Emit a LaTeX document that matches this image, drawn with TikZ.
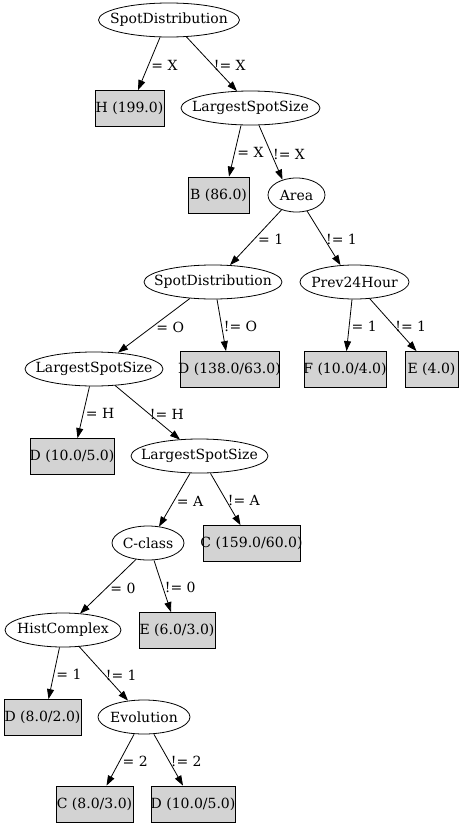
\documentclass[tikz,border=0pt]{standalone}
\usepackage{fontspec}
\setmainfont{DejaVu Serif}
\usetikzlibrary{arrows.meta,shapes.geometric}
\definecolor{leafgray}{RGB}{211,211,211}
\tikzset{
  mysplit/.style = {ellipse, draw, line width=0.8pt, inner sep=0pt, minimum height=34pt,
    execute at begin node={\hbox to 0pt\bgroup\hss}, execute at end node={\hss\egroup}},
  myleaf/.style = {rectangle, draw, fill=leafgray, line width=0.8pt, inner sep=0pt, minimum height=36pt,
    execute at begin node={\hbox to 0pt\bgroup\hss}, execute at end node={\hss\egroup}},
  myarrow/.style = {-{Triangle[length=10pt, width=7pt]}, line width=0.8pt},
  mylabel/.style = {anchor=west, inner sep=2pt, yshift=-1.5pt},
}
\begin{document}
\begin{tikzpicture}[x=1pt, y=-1pt, every node/.style={font=\fontsize{14}{16}\selectfont}]
\useasboundingbox (0,0) rectangle (464,827);
% splits
\node[mysplit, minimum width=141pt] (root) at (169,20) {SpotDistribution};
\node[mysplit, minimum width=139pt] (lss1) at (250.5,108) {LargestSpotSize};
\node[mysplit, minimum width=57pt] (area) at (296.5,195) {Area};
\node[mysplit, minimum width=138pt] (sd2) at (213,282) {SpotDistribution};
\node[mysplit, minimum width=109pt] (prev) at (354.5,282) {Prev24Hour};
\node[mysplit, minimum width=138pt] (lss2) at (94,369) {LargestSpotSize};
\node[mysplit, minimum width=137pt] (lss3) at (199.5,456) {LargestSpotSize};
\node[mysplit, minimum width=72pt] (cclass) at (148,543) {C-class};
\node[mysplit, minimum width=116pt] (hist) at (63,630) {HistComplex};
\node[mysplit, minimum width=92pt] (evol) at (144,717) {Evolution};
% leaves
\node[myleaf, minimum width=69pt] (h1) at (129.5,108.5) {H (199.0)};
\node[myleaf, minimum width=61pt] (b1) at (218.5,195) {B (86.0)};
\node[myleaf, minimum width=99pt] (d1) at (229.5,369.5) {D (138.0/63.0)};
\node[myleaf, minimum width=82pt] (f1) at (345,369.5) {F (10.0/4.0)};
\node[myleaf, minimum width=53pt] (e1) at (431.5,369.5) {E (4.0)};
\node[myleaf, minimum width=84pt] (d2) at (72,456.5) {D (10.0/5.0)};
\node[myleaf, minimum width=97pt] (c1) at (251.5,543.5) {C (159.0/60.0)};
\node[myleaf, minimum width=76pt] (e2) at (177,630.5) {E (6.0/3.0)};
\node[myleaf, minimum width=77pt] (d3) at (42.5,717.5) {D (8.0/2.0)};
\node[myleaf, minimum width=77pt] (c2) at (94.5,804) {C (8.0/3.0)};
\node[myleaf, minimum width=84pt] (d4) at (193,804) {D (10.0/5.0)};
% edges
\draw[myarrow] ([xshift=-9pt]root.south) -- node[mylabel] {= X} ([xshift=8.5pt]h1.north);
\draw[myarrow] ([xshift=17pt,yshift=1pt]root.south) -- node[mylabel] {!= X} ([xshift=-13.5pt,yshift=-0.5pt]lss1.north);
\draw[myarrow] ([xshift=-9.5pt]lss1.south) -- node[mylabel] {= X} ([xshift=10.5pt]b1.north);
\draw[myarrow] ([xshift=8.5pt]lss1.south) -- node[mylabel] {!= X} ([xshift=-14pt,yshift=-2pt]area.north);
\draw[myarrow] ([xshift=-15pt,yshift=2.5pt]area.south) -- node[mylabel] {= 1} ([xshift=17pt,yshift=-0.5pt]sd2.north);
\draw[myarrow] ([xshift=10.5pt,yshift=1.5pt]area.south) -- node[mylabel] {!= 1} ([xshift=-14pt,yshift=-0.5pt]prev.north);
\draw[myarrow] ([xshift=-23pt,yshift=1pt]sd2.south) -- node[mylabel] {= O} ([xshift=24pt,yshift=-1pt]lss2.north);
\draw[myarrow] ([xshift=4pt]sd2.south) -- node[mylabel] {!= O} ([xshift=-3.5pt]d1.north);
\draw[myarrow] ([xshift=-2.5pt]prev.south) -- node[mylabel] {= 1} ([xshift=1.5pt]f1.north);
\draw[myarrow] ([xshift=15pt,yshift=1pt]prev.south) -- node[mylabel] {!= 1} ([xshift=-15pt]e1.north);
\draw[myarrow] ([xshift=-4.5pt]lss2.south) -- node[mylabel] {= H} ([xshift=5.5pt]d2.north);
\draw[myarrow] ([xshift=21pt,yshift=1pt]lss2.south) -- node[mylabel] {!= H} ([xshift=-19.5pt,yshift=-1pt]lss3.north);
\draw[myarrow] ([xshift=-9.5pt]lss3.south) -- node[mylabel] {= A} ([xshift=11pt,yshift=-1pt]cclass.north);
\draw[myarrow] ([xshift=11pt]lss3.south) -- node[mylabel] {!= A} ([xshift=-11pt]c1.north);
\draw[myarrow] ([xshift=-12pt,yshift=1pt]cclass.south) -- node[mylabel] {= 0} ([xshift=17pt,yshift=-1pt]hist.north);
\draw[myarrow] ([xshift=6pt]cclass.south) -- node[mylabel] {!= 0} ([xshift=-6pt]e2.north);
\draw[myarrow] ([xshift=-3.5pt]hist.south) -- node[mylabel] {= 1} ([xshift=6pt]d3.north);
\draw[myarrow] ([xshift=16pt,yshift=1pt]hist.south) -- node[mylabel] {!= 1} ([xshift=-16pt,yshift=-1pt]evol.north);
\draw[myarrow] ([xshift=-10pt]evol.south) -- node[mylabel] {= 2} ([xshift=12pt]c2.north);
\draw[myarrow] ([xshift=10pt]evol.south) -- node[mylabel] {!= 2} ([xshift=-10pt]d4.north);
\end{tikzpicture}
\end{document}
